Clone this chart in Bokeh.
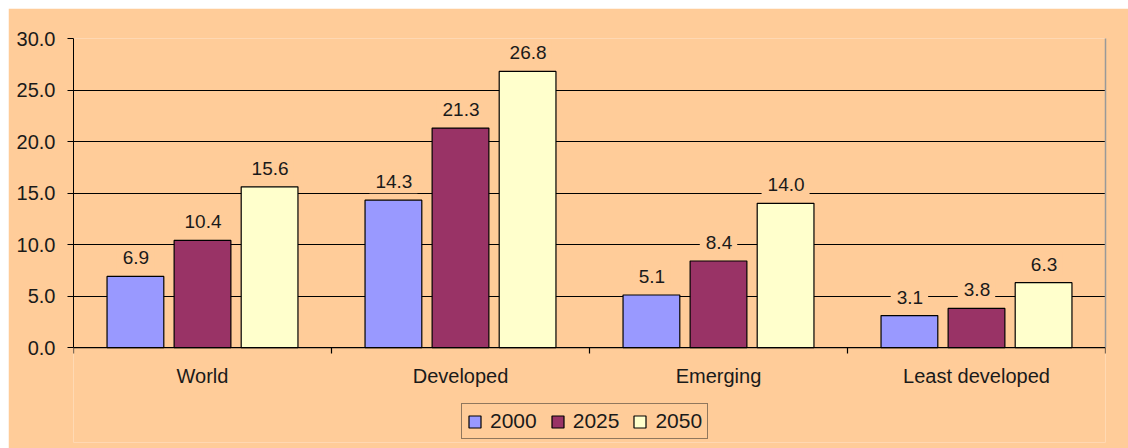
import math
from bokeh.plotting import figure
from bokeh.models import (ColumnDataSource, FixedTicker, NumeralTickFormatter, Range1d,
                          Legend, LegendItem, LinearAxis, Grid, Span)
from bokeh.transform import dodge
from bokeh.core.properties import value
from bokeh.embed import file_html
from bokeh.resources import INLINE

categories = ["World", "Developed", "Emerging", "Least developed"]
years = ["2000", "2025", "2050"]
v2000 = [6.9, 14.3, 5.1, 3.1]
v2025 = [10.4, 21.3, 8.4, 3.8]
v2050 = [15.6, 26.8, 14.0, 6.3]
colors = ["#9999FF", "#993366", "#FFFFCC"]
y_ticks = [0, 5, 10, 15, 20, 25, 30]

BG = "#FFCC99"
FONT = "Liberation Sans"
TXT = "#1a1a1a"

xpos = [i + 0.5 for i in range(len(categories))]
bounds_x = list(range(len(categories) + 1))
src = ColumnDataSource(dict(
    x=xpos, cat=categories, zero=[0] * len(categories),
    y2000=v2000, y2025=v2025, y2050=v2050,
    t2000=[f"{v:.1f}" for v in v2000],
    t2025=[f"{v:.1f}" for v in v2025],
    t2050=[f"{v:.1f}" for v in v2050],
))

# frame extends below the value axis so the legend can sit inside it
p = figure(width=1120, height=440, output_backend="svg", toolbar_location=None,
           x_axis_type=None,
           x_range=Range1d(0, len(categories)), y_range=Range1d(-9.22, 30),
           background_fill_color=BG, border_fill_color=BG,
           min_border_left=65, min_border_right=23, min_border_top=30,
           min_border_bottom=6)
p.margin = (8, 0, 0, 8)
p.outline_line_color = None

offsets = [-0.26, 0.0, 0.26]
renderers = []
for yr, col, off in zip(years, colors, offsets):
    r = p.vbar(x=dodge("x", off), top="y" + yr, width=0.22, source=src,
               fill_color=col, line_color="black", line_width=1.2)
    renderers.append(r)

for yr, off in zip(years, offsets):
    p.text(x=dodge("x", off), y="y" + yr, text="t" + yr, source=src,
           text_align="center", text_baseline="alphabetic",
           text_font=value(FONT), text_font_size="19px", text_color=TXT,
           y_offset=-19,
           background_fill_color=BG, padding=(6, 5, 6, 5))

# category axis drawn at value 0
p.add_layout(Span(location=0, dimension="width", line_color="black", line_width=1.2))
p.ray(x=bounds_x, y=[0] * len(bounds_x), length=6, length_units="screen",
      angle=-math.pi / 2, line_color="black", line_width=1.2)
p.text(x="x", y="zero", text="cat", source=src, text_align="center",
       text_baseline="alphabetic", y_offset=28,
       text_font=value(FONT), text_font_size="20px", text_color=TXT)

# y axis
p.yaxis.ticker = FixedTicker(ticks=y_ticks)
p.yaxis.bounds = (0, 30)
p.yaxis.formatter = NumeralTickFormatter(format="0.0")
p.yaxis.axis_line_color = "black"
p.yaxis.major_tick_line_color = "black"
p.yaxis.major_tick_out = 6
p.yaxis.major_tick_in = 0
p.yaxis.minor_tick_line_color = None
p.yaxis.major_label_standoff = 12
p.yaxis.major_label_text_font = FONT
p.yaxis.major_label_text_font_size = "20px"
p.yaxis.major_label_text_color = TXT

# grey right border of the plot area
right = LinearAxis(ticker=FixedTicker(ticks=[]), bounds=(0, 30),
                   axis_line_color="#999999", axis_line_width=1.5,
                   major_tick_line_color=None, minor_tick_line_color=None)
p.add_layout(right, "right")

p.ygrid.ticker = FixedTicker(ticks=y_ticks[1:-1])
p.ygrid.grid_line_color = "black"
p.ygrid.grid_line_width = 1
p.add_layout(Grid(dimension=1, ticker=FixedTicker(ticks=[y_ticks[-1]]),
                  grid_line_color="#999999", grid_line_width=1.5))

legend = Legend(items=[LegendItem(label=yr, renderers=[r]) for yr, r in zip(years, renderers)],
                orientation="horizontal", location=(388, 3),
                glyph_width=15, glyph_height=15, label_standoff=8, spacing=13,
                padding=5, margin=0,
                label_text_font=FONT, label_text_font_size="21px", label_text_color=TXT,
                border_line_color="#222222", border_line_width=1.5,
                background_fill_alpha=0)
p.add_layout(legend, "center")

open("out.html", "w").write(file_html(p, INLINE))
